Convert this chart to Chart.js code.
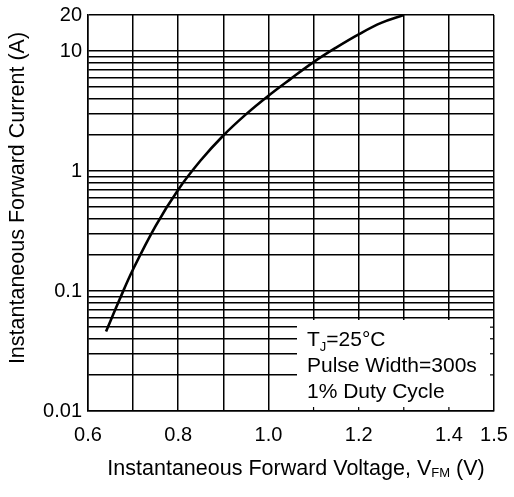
<!DOCTYPE html>
<html>
<head>
<meta charset="utf-8">
<script src="https://cdn.jsdelivr.net/npm/chart.js@4/dist/chart.umd.min.js"></script>
<style>
  html, body { margin: 0; padding: 0; background: #fff; }
  #wrap { width: 514px; height: 497px; }
</style>
</head>
<body>
<div id="wrap"><canvas id="ifChart" width="514" height="497"></canvas></div>
<script>
// forward voltage (V) vs forward current (A)
const voltage = [0.64, 0.67, 0.70, 0.75, 0.80, 0.85, 0.90, 0.95, 1.00, 1.05, 1.10, 1.15, 1.20, 1.25, 1.30];
const current = [0.046, 0.085, 0.152, 0.35, 0.70, 1.23, 1.98, 2.97, 4.25, 5.9, 8.1, 10.7, 13.8, 17.2, 20];

const yGrid = [0.01, 0.02, 0.03, 0.04, 0.05, 0.06, 0.07, 0.08, 0.09,
               0.1, 0.2, 0.3, 0.4, 0.5, 0.6, 0.7, 0.8, 0.9,
               1, 2, 3, 4, 5, 6, 7, 8, 9, 10, 20];
const yLabels = [0.01, 0.1, 1, 10, 20];
const xLabels = [0.6, 0.8, 1.0, 1.2, 1.4, 1.5];
const notes = ['T|J|=25°C', 'Pulse Width=300s', '1% Duty Cycle'];

const FONT = '"Liberation Sans", Arial, sans-serif';

// draws text with a subscript part: "main|sub|rest"
function subText(ctx, str, x, y, size, align) {
    const parts = str.split('|');
    const fonts = [size + 'px ' + FONT, Math.round(size * 0.62) + 'px ' + FONT, size + 'px ' + FONT];
    let total = 0;
    parts.forEach((p, i) => { ctx.font = fonts[i]; total += ctx.measureText(p).width; });
    let cx = align === 'center' ? x - total / 2 : x;
    ctx.textAlign = 'left';
    parts.forEach((p, i) => {
        ctx.font = fonts[i];
        ctx.fillText(p, cx, i === 1 ? y + size * 0.22 : y);
        cx += ctx.measureText(p).width;
    });
}

const boxPlugin = {
    id: 'notesBox',
    beforeDatasetsDraw(chart) {
        const { ctx, chartArea: a, scales } = chart;
        const bx = a.right - 197, by = a.bottom - 91;
        ctx.save();
        ctx.fillStyle = '#fff';
        ctx.fillRect(bx, by, a.right - bx - 1, a.bottom - by - 1);
        // small stubs of the grid on the box edges
        ctx.strokeStyle = '#000';
        ctx.lineWidth = 1.2;
        scales.x.ticks.forEach(t => {
            const px = scales.x.getPixelForValue(t.value);
            if (px > bx && px < a.right - 2) {
                ctx.beginPath(); ctx.moveTo(px, a.bottom); ctx.lineTo(px, a.bottom - 4); ctx.stroke();
            }
        });
        scales.y.ticks.forEach(t => {
            const py = scales.y.getPixelForValue(t.value);
            if (py > by && py < a.bottom - 2) {
                ctx.beginPath(); ctx.moveTo(a.right, py); ctx.lineTo(a.right - 4, py); ctx.stroke();
            }
        });
        ctx.fillStyle = '#000';
        ctx.textBaseline = 'alphabetic';
        notes.forEach((n, i) => subText(ctx, n, bx + 10, by + 26 + i * 26, 21, 'left'));
        ctx.restore();
    },
    afterDraw(chart) {
        const { ctx, chartArea: a } = chart;
        ctx.save();
        ctx.fillStyle = '#000';
        ctx.textBaseline = 'middle';
        subText(ctx, 'Instantaneous Forward Voltage, V|FM| (V)', (a.left + a.right) / 2 + 5, 469, 21.5, 'center');
        ctx.translate(18, 198);
        ctx.rotate(-Math.PI / 2);
        ctx.font = '21.5px ' + FONT;
        ctx.textAlign = 'center';
        ctx.fillText('Instantaneous Forward Current (A)', 0, 0);
        ctx.restore();
    }
};

const ctx = document.getElementById('ifChart').getContext('2d');
const ifChart = new Chart(ctx, {
    type: 'line',
    data: {
        datasets: [{
            data: voltage.map((v, i) => ({ x: v, y: current[i] })),
            borderColor: '#000',
            borderWidth: 2.6,
            pointRadius: 0,
            tension: 0.4,
            fill: false
        }]
    },
    options: {
        responsive: false,
        animation: false,
        layout: { padding: { top: 15, right: 20, left: 0, bottom: 0 } },
        plugins: {
            legend: { display: false },
            tooltip: { enabled: false }
        },
        scales: {
            x: {
                type: 'linear',
                min: 0.6,
                max: 1.5,
                afterFit(s) { s.height = 86; s.paddingLeft = 0; s.paddingRight = 0; },
                ticks: {
                    stepSize: 0.1,
                    autoSkip: false,
                    maxRotation: 0,
                    padding: 12,
                    color: '#000',
                    font: { family: FONT, size: 20 },
                    callback: v => xLabels.some(l => Math.abs(l - v) < 1e-6) ? v.toFixed(1) : ''
                },
                grid: { color: '#000', lineWidth: 1.5, drawTicks: false },
                border: { color: '#000', width: 1.5 }
            },
            y: {
                type: 'logarithmic',
                min: 0.01,
                max: 20,
                afterFit(s) { s.width = 88; s.paddingTop = 0; s.paddingBottom = 0; },
                afterBuildTicks(s) { s.ticks = yGrid.map(v => ({ value: v })); },
                ticks: {
                    autoSkip: false,
                    padding: 6,
                    color: '#000',
                    font: { family: FONT, size: 20 },
                    callback: v => yLabels.includes(v) ? String(v) : ''
                },
                grid: { color: '#000', lineWidth: 1.5, drawTicks: false },
                border: { color: '#000', width: 1.5 }
            }
        }
    },
    plugins: [boxPlugin]
});
</script>
</body>
</html>
